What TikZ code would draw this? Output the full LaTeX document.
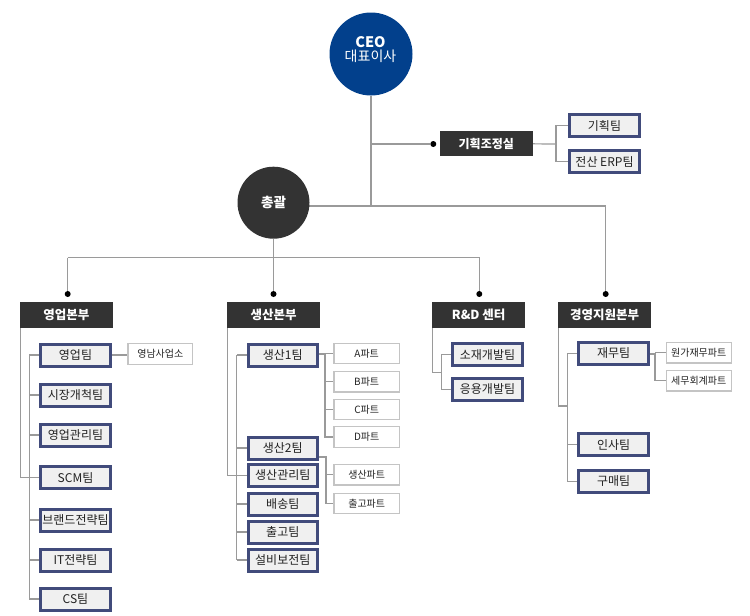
\documentclass[tikz,border=0pt]{standalone}
\usepackage{fontspec}
\setmainfont{Noto Sans CJK KR}
\usetikzlibrary{backgrounds}
\definecolor{ceoblue}{HTML}{02408C}
\definecolor{darkbox}{HTML}{333333}
\definecolor{teamblue}{HTML}{414B7B}
\definecolor{teamfill}{HTML}{F0F0F0}
\definecolor{partgrey}{HTML}{C4C4C4}
\definecolor{linegrey}{HTML}{9A9A9A}
\definecolor{txt}{HTML}{222222}
\tikzset{
  team/.style={draw=teamblue, line width=3pt, fill=teamfill, minimum width=69.5pt, minimum height=22pt, inner sep=0pt, text=txt, font=\fontsize{12}{12}\selectfont},
  partbox/.style={draw=partgrey, line width=1.2pt, fill=white, minimum width=65.5pt, minimum height=20.3pt, inner sep=0pt, text=txt, font=\fontsize{10}{10}\selectfont},
  head/.style={fill=darkbox, text=white, minimum width=92.7pt, minimum height=25.4pt, inner sep=0pt, font=\bfseries\fontsize{12.5}{13}\selectfont},
  ln/.style={draw=linegrey, line width=1.2pt},
  dotn/.style={circle, fill=black, inner sep=0pt, minimum size=6pt},
}
\begin{document}
\begin{tikzpicture}[x=1pt,y=-1pt]
\useasboundingbox (0,0) rectangle (750,616);
% top
\node[circle, fill=ceoblue, minimum size=83pt, inner sep=0pt] (ceo) at (371,54) {};
\node[text=white, align=center, inner sep=0pt] (ceotxt) at (370.5,49.5) {{\bfseries\fontsize{14.5}{16}\selectfont CEO}\\[2pt]{\fontsize{14}{16}\selectfont 대표이사}};
\node[circle, fill=darkbox, minimum size=72pt, inner sep=0pt, text=white, font=\bfseries\fontsize{13.5}{14}\selectfont] (tot) at (273.5,202.7) {총괄};
\node[head, minimum width=92.7pt, minimum height=25.7pt, font=\bfseries\fontsize{12}{13}\selectfont] (ks) at (486.3,143.5) {기획조정실};
\node[dotn] (dk) at (433.3,144) {};
\node[team] (k1) at (604.5,125.8) {기획팀};
\node[team] (k2) at (604.5,161.8) {전산 ERP팀};
% heads
\node[head] (hy) at (66.3,315) {영업본부};
\node[head] (hp) at (273.7,315) {생산본부};
\node[head] (hr) at (478.7,315) {R\&D 센터};
\node[head] (hg) at (604.5,315) {경영지원본부};
\node[dotn] (dy) at (67.7,294) {};
\node[dotn] (dp) at (273.5,294) {};
\node[dotn] (dr) at (479.3,294) {};
\node[dotn] (dg) at (605.7,294) {};
% sales
\node[team] (y1) at (75.5,355) {영업팀};
\node[team] (y2) at (75.5,395) {시장개척팀};
\node[team] (y3) at (75.5,435) {영업관리팀};
\node[team] (y4) at (75.5,477.5) {SCM팀};
\node[team] (y5) at (75.5,520) {브랜드전략팀};
\node[team] (y6) at (75.5,560) {IT전략팀};
\node[team] (y7) at (75.5,599) {CS팀};
\node[partbox, minimum width=64.8pt] (yn) at (160.3,354) {영남사업소};
% production
\node[team] (p1) at (282.8,355) {생산1팀};
\node[team] (p2) at (282.8,448) {생산2팀};
\node[team] (p3) at (282.8,475.5) {생산관리팀};
\node[team] (p4) at (282.8,504) {배송팀};
\node[team] (p5) at (282.8,532) {출고팀};
\node[team] (p6) at (282.8,560) {설비보전팀};
\node[partbox] (pa) at (366.7,353.5) {A파트};
\node[partbox] (pb) at (366.7,381.8) {B파트};
\node[partbox] (pc) at (366.7,409.7) {C파트};
\node[partbox] (pd) at (366.7,437) {D파트};
\node[partbox] (ps) at (366.7,474.8) {생산파트};
\node[partbox] (pt) at (366.7,503.3) {출고파트};
% R&D
\node[team] (r1) at (487.5,354.8) {소재개발팀};
\node[team] (r2) at (487.5,389.2) {응용개발팀};
% management
\node[team] (g1) at (613.7,353.3) {재무팀};
\node[team] (g2) at (613.7,444.7) {인사팀};
\node[team] (g3) at (613.7,481.3) {구매팀};
\node[partbox, minimum width=64.8pt] (gq1) at (698.7,352.8) {원가재무파트};
\node[partbox, minimum width=64.8pt] (gq2) at (698.7,380.8) {세무회계파트};
% junction coordinates
\coordinate (busR) at (605.7,206);
\coordinate (busL) at (67.7,257.5);
\coordinate (kj) at (556,144);
\coordinate (ya) at (20.7,477.5);
\coordinate (ysp) at (29.3,355);
\coordinate (ysq) at (29.3,599);
\coordinate (pa0) at (227.8,475.5);
\coordinate (psp) at (236.7,355);
\coordinate (psq) at (236.7,560);
\coordinate (pj1) at (325,354);
\coordinate (pj2) at (326,457);
\coordinate (ra) at (432.8,372.3);
\coordinate (rb) at (441.7,372.3);
\coordinate (ga) at (558.8,406);
\coordinate (gb) at (567.3,406);
\coordinate (gj) at (655,354);
\begin{scope}[on background layer]
\draw[ln] (ceo) -- (ceo |- busR);
\draw[ln] (tot |- busR) -- (busR) -- (dg);
\draw[ln] (ceo |- dk) -- (dk);
\draw[ln] (ks) -- (kj);
\draw[ln] (k1) -| (kj) |- (k2);
\draw[ln] (tot) -- (tot |- busL);
\draw[ln] (busL) -- (dr |- busL) -- (dr);
\draw[ln] (busL) -- (dy);
\draw[ln] (dp |- busL) -- (dp);
% sales
\draw[ln] (hy.center -| ya) -- (ya) -- (y4);
\draw[ln] (ysp) -- (ysq);
\foreach \t in {y1,y2,y3,y4,y5,y6,y7} { \draw[ln] (\t) -- (\t -| ysp); }
\draw[ln] (y1) -- (y1 -| yn);
% production
\draw[ln] (hp.center -| pa0) -- (pa0) -- (p3);
\draw[ln] (psp) -- (psq);
\foreach \t in {p1,p2,p3,p4,p5,p6} { \draw[ln] (\t) -- (\t -| psp); }
\draw[ln] (p1 |- pj1) -- (pj1) -- (pj1 |- pd) -- (pd);
\foreach \t in {pa,pb,pc} { \draw[ln] (pj1 |- \t) -- (\t); }
\draw[ln] (p2 |- pj2) -- (pj2) |- (pt);
\draw[ln] (pj2 |- ps) -- (ps);
% R&D
\draw[ln] (hr.center -| ra) -- (ra) -- (rb);
\draw[ln] (r1) -| (rb) |- (r2);
% management
\draw[ln] (hg.center -| ga) -- (ga) -- (gb);
\draw[ln] (g1) -| (gb) |- (g3);
\draw[ln] (g2) -- (g2 -| gb);
\draw[ln] (g1 |- gj) -- (gj) |- (gq2);
\draw[ln] (gj |- gq1) -- (gq1);
\end{scope}
\end{tikzpicture}
\end{document}
